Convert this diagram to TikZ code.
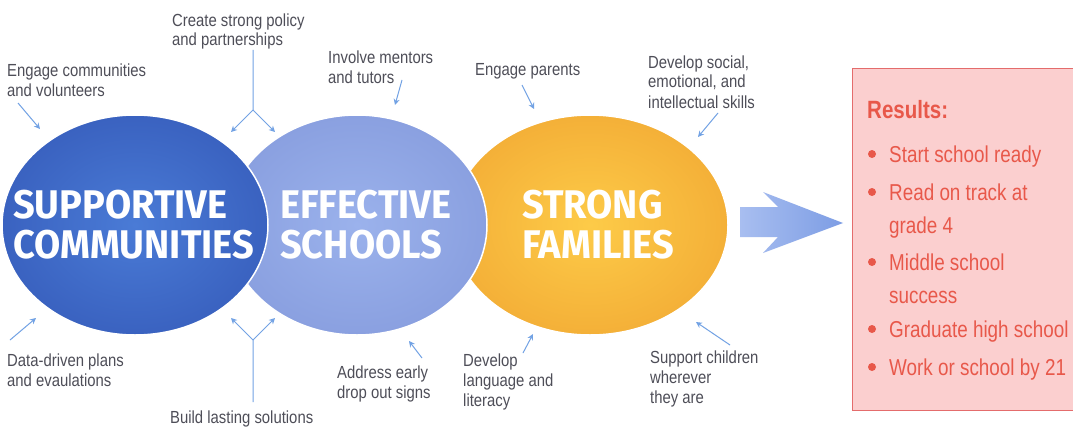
\documentclass[tikz,border=0pt]{standalone}
\usepackage{fontspec}
\setmainfont{Liberation Sans}
\newfontfamily\lblfont[FakeStretch=0.85]{Liberation Sans}
\newfontfamily\resfont[FakeStretch=0.82]{Liberation Sans}
\newfontfamily\bigfont[FakeStretch=0.95]{Fira Sans}
\usetikzlibrary{arrows.meta,shapes.geometric}
\definecolor{dblue}{HTML}{4A7BD6}
\definecolor{dblueout}{HTML}{3A62C0}
\definecolor{lblue}{HTML}{9BB2EC}
\definecolor{lblueout}{HTML}{8AA0E0}
\definecolor{orng}{HTML}{F4B038}
\definecolor{orngin}{HTML}{FDCB48}
\definecolor{arrowc}{HTML}{72A2E4}
\definecolor{labelc}{HTML}{4E4E58}
\definecolor{resred}{HTML}{E8584A}
\definecolor{resfill}{HTML}{FBCFCF}
\definecolor{resdraw}{HTML}{E46C6C}
\definecolor{bigarrowl}{HTML}{A8BEF0}
\definecolor{bigarrowr}{HTML}{7D9DE4}
\tikzset{
  blob/.style={ellipse, inner sep=0pt, draw=white, line width=1.5pt},
  lbl/.style={font=\lblfont\fontsize{17.5}{20}\selectfont, text=labelc, align=left, inner sep=0pt, anchor=base west},
  big/.style={font=\bigfont\bfseries\fontsize{40}{40}\selectfont, text=white, align=left, inner sep=0pt, anchor=base west},
  resitem/.style={font=\resfont\fontsize{23}{33}\selectfont, text=resred, align=left, inner sep=0pt, anchor=base west},
  conn/.style={draw=arrowc, line width=1pt, -{Stealth[length=6pt,width=6pt]}},
  bullet/.style={fill=resred, draw=none},
}
\begin{document}
\begin{tikzpicture}[x=1pt,y=-1pt]
\useasboundingbox (0,0) rectangle (1073,428);
\fill[white] (0,0) rectangle (1073,428);

% ellipses (back to front)
\node[blob, minimum width=276pt, minimum height=220pt, inner color=orngin, outer color=orng] (sf) at (590,225) {};
\node[blob, minimum width=260pt, minimum height=220pt, inner color=lblue, outer color=lblueout] (es) at (357,225) {};
\node[blob, minimum width=266pt, minimum height=220pt, inner color=dblue, outer color=dblueout] (sc) at (135,225) {};

% base anchor = last line baseline
\node[big] (tsc) at (13,258) {SUPPORTIVE\\COMMUNITIES};
\node[big] (tes) at (280,258) {EFFECTIVE\\SCHOOLS};
\node[big] (tsf) at (522,258) {STRONG\\FAMILIES};

% big arrow
\shade[left color=bigarrowl, right color=bigarrowr]
  (740,207) -- (778,207) -- (763,192) -- (843,223) -- (763,253) -- (778,237) -- (740,237) -- cycle;

% results box
\node[draw=resdraw, fill=resfill, line width=1.2pt, anchor=north west, minimum width=230pt, minimum height=342pt, inner sep=0pt] (res) at (852,68) {};
\node[resitem, font=\resfont\bfseries\fontsize{25}{30}\selectfont] (rh) at (867,118) {Results:};
\node[resitem] (r1) at (889,162) {Start school ready};
\node[resitem] (r2) at (889,233) {Read on track at\\grade 4};
\node[resitem] (r3) at (889,303) {Middle school\\success};
\node[resitem] (r4) at (889,337) {Graduate high school};
\node[resitem] (r5) at (889,375) {Work or school by 21};
\foreach \yy in {154,192,262,329,367} \fill[bullet] (872,\yy) circle (4pt);

% labels
\node[lbl] (l1) at (7,96) {Engage communities\\and volunteers};
\node[lbl] (l2) at (172,46) {Create strong policy\\and partnerships};
\node[lbl] (l3) at (328,83) {Involve mentors\\and tutors};
\node[lbl] (l4) at (475,75) {Engage parents};
\node[lbl] (l5) at (648,108) {Develop social,\\emotional, and\\intellectual skills};
\node[lbl] (l6) at (7,386) {Data-driven plans\\and evaulations};
\node[lbl] (l7) at (170,423) {Build lasting solutions};
\node[lbl] (l8) at (337,398) {Address early\\drop out signs};
\node[lbl] (l9) at (463,406) {Develop\\language and\\literacy};
\node[lbl] (l10) at (650,403) {Support children\\wherever\\they are};

% connectors
\coordinate (a1s) at (18,103); \coordinate (a1e) at (40,129);
\draw[conn] (a1s) -- (a1e);
\coordinate (f1s) at (253,50); \coordinate (f1j) at (253,110);
\coordinate (f1l) at (231,132); \coordinate (f1r) at (275,132);
\draw[conn] (f1s) -- (f1j) -- (f1l);
\draw[conn] (f1j) -- (f1r);
\coordinate (a3s) at (402,80); \coordinate (a3e) at (395,105);
\draw[conn] (a3s) -- (a3e);
\coordinate (a4s) at (522,85); \coordinate (a4e) at (534,109);
\draw[conn] (a4s) -- (a4e);
\coordinate (a5s) at (718,113); \coordinate (a5e) at (698,137);
\draw[conn] (a5s) -- (a5e);
\coordinate (a6s) at (10,340); \coordinate (a6e) at (36,318);
\draw[conn] (a6s) -- (a6e);
\coordinate (f2s) at (253,402); \coordinate (f2j) at (253,340);
\coordinate (f2l) at (231,318); \coordinate (f2r) at (275,318);
\draw[conn] (f2s) -- (f2j) -- (f2l);
\draw[conn] (f2j) -- (f2r);
\coordinate (a8s) at (422,358); \coordinate (a8e) at (409,341);
\draw[conn] (a8s) -- (a8e);
\coordinate (a9s) at (523,353); \coordinate (a9e) at (533,334);
\draw[conn] (a9s) -- (a9e);
\coordinate (a10s) at (730,345); \coordinate (a10e) at (696,322);
\draw[conn] (a10s) -- (a10e);
\end{tikzpicture}
\end{document}
